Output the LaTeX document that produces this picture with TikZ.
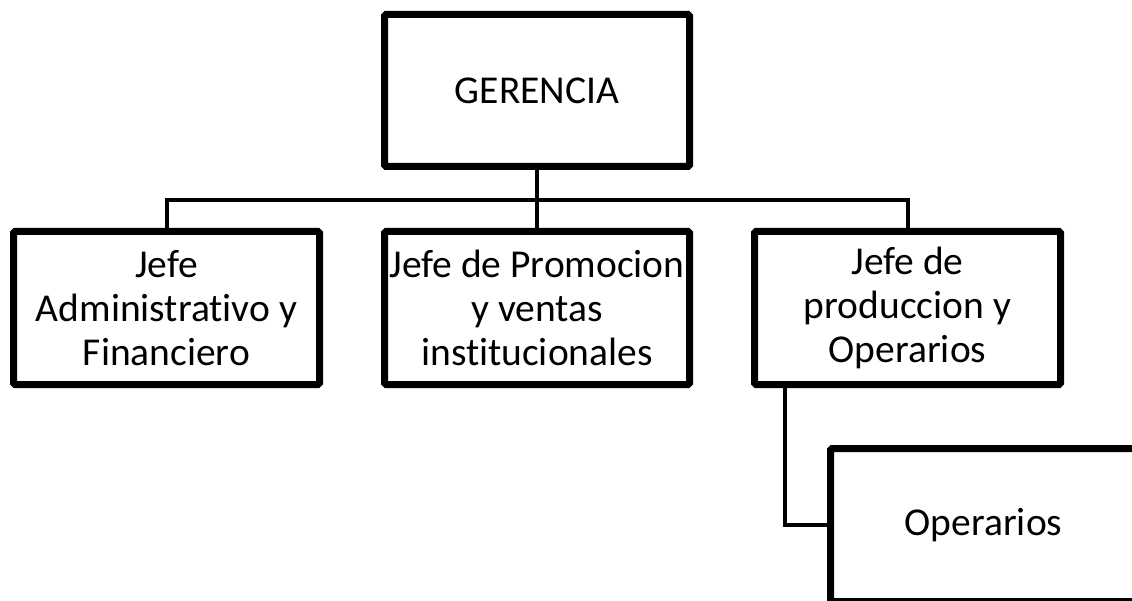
\documentclass[tikz,border=0pt]{standalone}
\usepackage{fontspec}
\setmainfont[Ligatures={NoCommon}]{Carlito}
\begin{document}
\begin{tikzpicture}[x=1pt,y=-1pt,
  orgbox/.style={draw=black, line width=7pt, fill=white, rounded corners=1.5pt,
    align=center, inner sep=0pt, font=\fontsize{39.5}{44}\selectfont},
  conn/.style={draw=black, line width=4pt}]
\useasboundingbox (0,0) rectangle (1132,601);
\clip (0,0) rectangle (1132,601);
\fill[white] (0,0) rectangle (1132,601);
\node[orgbox, minimum width=305pt, minimum height=152pt] (ger) at (537,90.5) {GERENCIA};
\node[orgbox, minimum width=306pt, minimum height=153pt] (adm) at (166.5,308) {Jefe\\Administrativo y\\Financiero};
\node[orgbox, minimum width=305pt, minimum height=153pt] (pro) at (537,308) {Jefe de Promocion\\y ventas\\institucionales};
\node[orgbox, minimum width=306pt, minimum height=153pt] (prd) at (907.5,308) {Jefe de\\produccion y\\Operarios};
\node[orgbox, minimum width=306pt, minimum height=153pt] (ope) at (983.5,525) {Operarios};
\coordinate (bus) at (537,200);
\coordinate (pd) at (785,388);
\draw[conn] (ger.south) -- (ger.south |- bus);
\draw[conn] (adm.north) |- (bus) -| (prd.north);
\draw[conn] (bus) -- (pro.north);
\draw[conn] (pd) |- (ope.west);
\end{tikzpicture}
\end{document}
